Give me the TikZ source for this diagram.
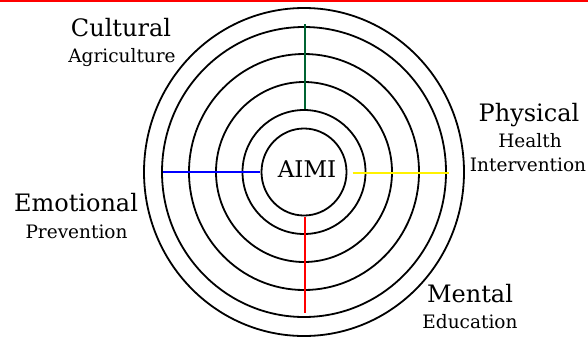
\documentclass[tikz,border=0pt]{standalone}
\usepackage{fontspec}
\setmainfont{DejaVu Serif}
\usetikzlibrary{shapes.geometric}
\definecolor{spokegreen}{RGB}{0,100,50}
\tikzset{
  ring/.style={draw, ellipse, line width=1.8pt, inner sep=0pt, outer sep=0pt},
  biglabel/.style={font=\fontsize{24}{28}\selectfont, inner sep=0pt, anchor=base},
  smalllabel/.style={font=\fontsize{18.5}{22}\selectfont, inner sep=0pt, anchor=base},
  spoke/.style={line width=2pt},
}
\begin{document}
\begin{tikzpicture}[x=1pt, y=-1pt]
  \useasboundingbox (0,0) rectangle (588,338);
  \draw[red, line width=1.5pt] (0,0.75) -- (588,0.75);
  % rings
  \node[ring, minimum width=320pt, minimum height=328pt] (r1) at (304,172) {};
  \node[ring, minimum width=284pt, minimum height=290pt] (r2) at (304,172) {};
  \node[ring, minimum width=230pt, minimum height=236pt] (r3) at (304,172) {};
  \node[ring, minimum width=176pt, minimum height=180pt] (r4) at (304,172) {};
  \node[ring, minimum width=123pt, minimum height=124pt] (r5) at (304,172) {};
  \node[ring, minimum width=85pt, minimum height=87pt] (r6) at (304,172) {};
  \node[anchor=base, inner sep=0pt, font=\fontsize{23}{27}\selectfont] (aimi) at (307,177) {AIMI};
  % spokes
  \draw[spoke, spokegreen] ([xshift=1pt, yshift=3pt]r2.north) -- ([xshift=1pt, yshift=1pt]r5.north);
  \draw[spoke, blue] ([xshift=1pt]r2.west) -- ([xshift=-1.5pt]r6.west);
  \draw[spoke, yellow] ([xshift=6pt, yshift=-1pt]r6.east) -- ([xshift=3pt, yshift=-1pt]r2.east);
  \draw[spoke, red] ([xshift=1pt, yshift=-1.5pt]r6.south) -- ([xshift=1pt, yshift=4pt]r2.south);
  % labels
  \node[biglabel] (cultural) at (121,36) {Cultural};
  \node[smalllabel] (agriculture) at (122,62.5) {Agriculture};
  \node[biglabel] (physical) at (529,121) {Physical};
  \node[smalllabel] (health) at (530,147) {Health};
  \node[smalllabel] (intervention) at (528,171) {Intervention};
  \node[biglabel] (emotional) at (76,211) {Emotional};
  \node[smalllabel] (prevention) at (76.5,238) {Prevention};
  \node[biglabel] (mental) at (470,302) {Mental};
  \node[smalllabel] (education) at (470,328) {Education};
\end{tikzpicture}
\end{document}
